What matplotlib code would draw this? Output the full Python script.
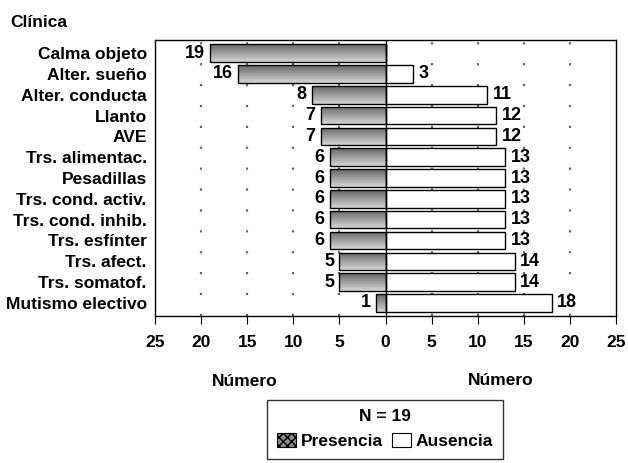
import matplotlib
matplotlib.use("Agg")
import matplotlib.pyplot as plt
import numpy as np
from matplotlib.patches import Patch

plt.rcParams["font.family"] = ["Liberation Sans Narrow", "Liberation Sans", "DejaVu Sans"]
plt.rcParams["font.weight"] = "bold"

categorias = ["Calma objeto", "Alter. sueño", "Alter. conducta", "Llanto", "AVE",
              "Trs. alimentac.", "Pesadillas", "Trs. cond. activ.", "Trs. cond. inhib.",
              "Trs. esfínter", "Trs. afect.", "Trs. somatof.", "Mutismo electivo"]
presencia = [19, 16, 8, 7, 7, 6, 6, 6, 6, 6, 5, 5, 1]
ausencia = [0, 3, 11, 12, 12, 13, 13, 13, 13, 13, 14, 14, 18]
ticks = [-25, -20, -15, -10, -5, 0, 5, 10, 15, 20, 25]
n_total = 19

fig = plt.figure(figsize=(6.28, 4.63), dpi=100)
ax = fig.add_axes([0.247, 0.3175, 0.734, 0.596])

y = np.arange(len(categorias))
h = 0.84

# vertical gradient used to fill the "presencia" bars
grad = np.linspace(0.40, 0.84, 64).reshape(-1, 1)

bars_p = ax.barh(y, [-v for v in presencia], height=h, facecolor="none",
                 edgecolor="black", linewidth=1.0, zorder=3)
for bar in bars_p:
    x0, y0 = bar.get_x(), bar.get_y()
    w, bh = bar.get_width(), bar.get_height()
    im = ax.imshow(grad, extent=[x0 + w, x0, y0 + bh, y0], cmap="gray",
                   vmin=0, vmax=1, aspect="auto", zorder=2, interpolation="bilinear")
    im.set_clip_path(bar)

bars_a = ax.barh(y, ausencia, height=h, facecolor="white", edgecolor="black",
                 linewidth=1.0, zorder=3)

for yi, v in zip(y, presencia):
    ax.text(-v - 0.6, yi, str(v), ha="right", va="center", fontsize=13, zorder=4)
for yi, v in zip(y, ausencia):
    if v > 0:
        ax.text(v + 0.6, yi, str(v), ha="left", va="center", fontsize=13, zorder=4)

ax.axvline(0, color="black", linewidth=1.0, zorder=4)

ax.set_xlim(-25, 25)
ax.set_ylim(len(categorias) - 1 + 0.63, -0.63)
ax.set_xticks(ticks)
ax.set_xticklabels([str(abs(t)) for t in ticks], fontsize=12.5)
ax.set_yticks(y)
ax.set_yticklabels(categorias, fontsize=12.5)
ax.tick_params(axis="y", length=0, pad=6)
ax.tick_params(axis="x", length=6, width=0.8, pad=8, direction="out")

# sparse dotted guides at every 5 units
for t in ticks:
    if t not in (-25, 0, 25):
        ax.axvline(t, color="#666666", linewidth=1.6, linestyle=(0, (1, 8.4)),
                   dash_capstyle="butt", zorder=1)

for s in ax.spines.values():
    s.set_linewidth(1.0)

fig.text(0.016, 0.952, "Clínica", fontsize=12.5, ha="left", va="center")
fig.text(0.39, 0.175, "Número", fontsize=12.5, ha="center", va="center")
fig.text(0.797, 0.178, "Número", fontsize=12.5, ha="center", va="center")

handles = [Patch(facecolor="#8c8c8c", edgecolor="black", hatch="xxxx", linewidth=0.8),
           Patch(facecolor="white", edgecolor="black", linewidth=0.8)]
leg = fig.legend(handles, ["Presencia", "Ausencia"], ncol=2, title=f"N = {n_total}",
                 loc="upper center", bbox_to_anchor=(0.613, 0.137), fontsize=12.5,
                 title_fontsize=12.5, frameon=True, fancybox=False, edgecolor="black",
                 handlelength=1.1, handleheight=0.9, handletextpad=0.3, columnspacing=0.5,
                 borderpad=0.55, borderaxespad=0)
leg.get_frame().set_linewidth(1.0)
leg.get_title().set_fontweight("bold")

fig.savefig("out.png", dpi=100)
